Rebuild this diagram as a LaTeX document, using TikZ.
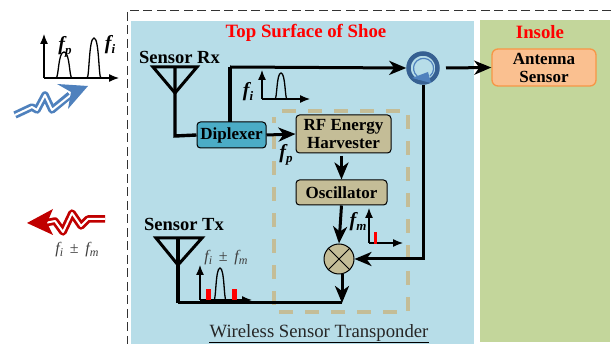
\documentclass[tikz,border=0pt]{standalone}
\usepackage{fontspec}
\setmainfont{Liberation Serif}
\usetikzlibrary{arrows.meta,calc}
\definecolor{shoeblue}{HTML}{B7DDE8}
\definecolor{insolegreen}{HTML}{C3D69B}
\definecolor{tan}{HTML}{C4BD97}
\definecolor{dip}{HTML}{4BACC6}
\definecolor{ant}{HTML}{FAC090}
\definecolor{antb}{HTML}{F79646}
\definecolor{circ}{HTML}{366092}
\definecolor{wblue}{HTML}{4F81BD}
\definecolor{wred}{HTML}{C00000}
\definecolor{gtext}{HTML}{404040}
\tikzset{
  x=1pt,y=-1pt,
  block/.style={draw=black,line width=1pt,rounded corners=3.5pt,align=center,font=\bfseries\fontsize{17}{18}\selectfont,inner sep=0pt},
  wire/.style={line width=3pt,draw=black},
  tip/.style={-{Stealth[length=17pt,width=14pt,inset=5pt]}},
  axis/.style={line width=1.2pt,-{Latex[length=10pt,width=8pt]}},
  peak/.style={line width=1.3pt},
  antenna/.style={line width=3pt,line join=miter},
  lab/.style={font=\bfseries\fontsize{18.5}{20}\selectfont,inner sep=0pt},
  flab/.style={font=\bfseries\itshape\fontsize{20}{20}\selectfont,inner sep=0pt},
  glab/.style={font=\itshape\fontsize{16}{16}\selectfont,text=gtext,inner sep=0pt},
  redbar/.style={fill=red,draw=none},
}
\newcommand{\pk}[4]{\draw[peak] (#1-#3,#4) .. controls (#1-#3*0.65,#4) and (#1-#3*0.75,#2) .. (#1,#2) .. controls (#1+#3*0.75,#2) and (#1+#3*0.65,#4) .. (#1+#3,#4);}
\newcommand{\sbs}[1]{\raisebox{-3.5pt}{\fontsize{13}{13}\selectfont #1}}
\newcommand{\sbg}[1]{\raisebox{-3pt}{\fontsize{12}{12}\selectfont #1}}
\begin{document}
\begin{tikzpicture}
\useasboundingbox (0,0) rectangle (611,344);
% backgrounds
\fill[shoeblue] (131,21) rectangle (474,344);
\fill[insolegreen] (480,20) rectangle (610,342);
\draw[line width=0.9pt,black!80,dash pattern=on 9pt off 4.5pt] (611,10) -- (127,10) -- (127,344);
% titles
\node[font=\bfseries\fontsize{18.8}{20}\selectfont,text=red,inner sep=0pt] (top) at (306,33) {Top Surface of Shoe};
\node[font=\bfseries\fontsize{18.8}{20}\selectfont,text=red,inner sep=0pt] (ins) at (540,32) {Insole};
\node[font=\fontsize{18.7}{20}\selectfont,inner sep=0pt,text=black!85] (wst) at (319,333) {Wireless Sensor Transponder};
\coordinate (ul1) at (209,342); \coordinate (ul2) at (429,342);
\draw[line width=0.7pt] (ul1) -- (ul2);
% harvester dashed box
\draw[tan,line width=4pt,dash pattern=on 14pt off 12pt] (282,111) -- (408,111) -- (408,312) -- (274,312) -- (274,117);
% blocks
\node[block,fill=dip,minimum width=69pt,minimum height=26pt] (dipl) at (231.5,135) {Diplexer};
\node[block,fill=tan,minimum width=95pt,minimum height=38pt] (harv) at (343.5,134) {RF Energy\\Harvester};
\node[block,fill=tan,minimum width=91pt,minimum height=25pt] (osc) at (341.5,192.5) {Oscillator};
\node[block,fill=ant,draw=antb,line width=1.3pt,rounded corners=6pt,minimum width=104pt,minimum height=37pt] (antsens) at (544,67.5) {Antenna\\Sensor};
\node[draw=black,line width=1pt,fill=tan,circle,minimum size=30pt,inner sep=0pt] (mix) at (339,259) {};
\draw[line width=1pt] (mix.north west) -- (mix.south east) (mix.north east) -- (mix.south west);
% circulator
\node[draw=circ,line width=4.5pt,fill=shoeblue,circle,minimum size=29pt,inner sep=0pt] (circl) at (423,68) {};
\draw[wblue,line width=1.2pt] (430,76) arc[start angle=50,end angle=-230,radius=10];
\fill[wblue] (412,78) -- (428,72) -- (431,83) -- cycle;
% connectors
\coordinate (rxl) at (153,67); \coordinate (rxr) at (197,67); \coordinate (rxa) at (175,93);
\coordinate (rxb) at (175,136); \coordinate (rxt) at (175,67);
\draw[antenna] (rxl) -- (rxr) -- (rxa) -- cycle;
\draw[wire,line width=3.4pt] (rxt) -- (rxb) -- (dipl.west);
\coordinate (txl) at (156,238); \coordinate (txr) at (202,238); \coordinate (txa) at (178,265);
\coordinate (txb) at (178,303); \coordinate (txt) at (178,238);
\draw[antenna] (txl) -- (txr) -- (txa) -- cycle;
\draw[wire,line width=3.2pt] (txt) -- (txb);
\coordinate (dipt) at (230,67);
\draw[wire,line width=3.6pt] (230,122) -- (dipt);
\draw[wire,tip] (dipt) -- (circl.west);
\draw[wire,tip] (dipl.east) -- (harv.west);
\draw[wire,tip] (341.5,156) -- (osc.north);
\draw[wire,tip] (osc.south) -- (mix.north);
\draw[wire,tip] (circl.south) -- (423,259) -- (mix.east);
\coordinate (mb) at (342,303);
\draw[wire,tip] (mix.south -| mb) -- (mb);
\draw[wire] (mb) -- (txb);
\coordinate (cout) at (446,68);
\draw[wire,tip] (cout) -- (antsens.west);
% spectrum labels
\node[lab] (rx) at (179.5,57) {Sensor Rx};
\node[lab] (tx) at (184,224) {Sensor Tx};
% top-left spectrum
\coordinate (a0) at (44,78);
\draw[axis] (a0) -- (44,34);
\draw[axis] (a0) -- (119,78);
\pk{64}{52}{8}{78}
\pk{94}{38}{7}{78}
\node[flab] (fp) at (65,47) {f\sbs{p}};
\node[flab] (fi) at (110,45) {f\sbs{i}};
% fi inner spectrum
\coordinate (b0) at (262,99);
\draw[axis] (b0) -- (262,70);
\draw[axis] (b0) -- (310,99);
\pk{281}{73}{6}{99}
\node[flab] (fi2) at (248,92) {f\sbs{i}};
\node[flab] (fp2) at (286,155) {f\sbs{p}};
% fm spectrum
\coordinate (c0) at (369,243);
\draw[axis] (c0) -- (369,208);
\draw[axis] (c0) -- (403,243);
\fill[redbar] (373.5,232) rectangle (376.5,244);
\node[flab] (fm) at (358,222) {f\sbs{m}};
% Tx spectrum
\coordinate (d0) at (200,300);
\draw[axis] (d0) -- (200,265);
\draw[axis] (d0) -- (252,300);
\pk{220}{268}{6}{300}
\fill[redbar] (205.5,289) rectangle (210.5,300);
\fill[redbar] (231.5,289) rectangle (236.5,300);
\node[glab] (fifm) at (226,258) {f\sbg{i}\, \textup{±}\, f\sbg{m}};
\node[glab] (fifm2) at (77,250) {f\sbg{i}\, \textup{±}\, f\sbg{m}};
% wave arrows
\draw[wblue,line width=7.5pt,line join=round] (15,115) -- (32,107) -- (37,110) -- (45,95) -- (52,110) -- (70,95);
\draw[white,line width=2pt,line join=round] (15,115) -- (32,107) -- (37,110) -- (45,95) -- (52,110) -- (72,94);
\fill[wblue] (88,86) -- (57,84) -- (71,92) -- (68,109) -- cycle;
\draw[wred,line width=7.5pt,line join=round] (105,219) -- (88,219) -- (81,226) -- (72,213) -- (63,232) -- (55,221) -- (45,223);
\draw[white,line width=2pt,line join=round] (105,219) -- (88,219) -- (81,226) -- (72,213) -- (63,232) -- (55,221) -- (45,223);
\fill[wred] (27,223) -- (53,209) -- (47,223) -- (53,235) -- cycle;
\end{tikzpicture}
\end{document}
